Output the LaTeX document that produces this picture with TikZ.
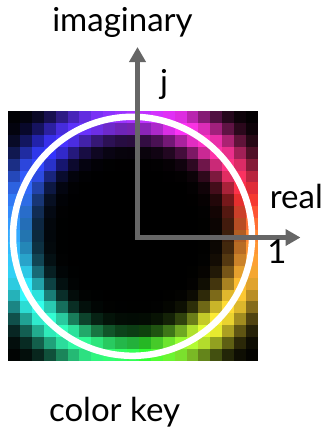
\documentclass[tikz,border=0pt]{standalone}
\usepackage{fontspec}
\setmainfont{Lato}
\usetikzlibrary{arrows.meta}

\definecolor{axisgray}{HTML}{666666}
\tikzset{
  axis/.style={draw=axisgray, line width=5pt, line cap=rect, -{Triangle[length=15pt,width=16pt]}},
  lbl/.style={anchor=base, inner sep=0pt, font=\fontsize{33}{40}\selectfont},
}

\begin{document}
\begin{tikzpicture}[x=1pt,y=-1pt]
  \useasboundingbox (0,0) rectangle (329,432);
  % pixel key: hue from the angle, brightness from the distance to the unit circle
  \def\cs{11.9}
  \def\rad{119.5}
  \fill[black] (8,111) rectangle (257.9,360.9);
  \foreach \i in {0,...,20} {
    \foreach \j in {0,...,20} {
      \pgfmathsetmacro\u{(\i-10)*\cs/\rad}
      \pgfmathsetmacro\v{(10-\j)*\cs/\rad}
      \pgfmathsetmacro\rr{sqrt(\u*\u+\v*\v)}
      \pgfmathsetmacro\ang{mod(atan2(\v,\u+0.0001)+360,360)}
      \pgfmathsetmacro\hh{\ang<45 ? 25-\ang*1.3333 : (\ang<90 ? -35-(\ang-45)*1.1111 :
        (\ang<180 ? -85-(\ang-90)*0.7778 : (\ang<270 ? -155-(\ang-180)*0.8333 :
        (\ang<315 ? -230-(\ang-270)*1.6667 : -305-(\ang-315)*0.6667))))}
      \pgfmathsetmacro\hue{mod(\hh+720,360)}
      \pgfmathsetmacro\sig{\rr<1 ? 0.17 : 0.2}
      \pgfmathsetmacro\bri{exp(-min(9,((\rr-1)/\sig)^2))}
      \definecolor{pix}{Hsb}{\hue,0.8,\bri}
      \fill[pix] ({8+\i*\cs},{111+\j*\cs}) rectangle ({8.3+(\i+1)*\cs},{111.3+(\j+1)*\cs});
    }
  }
  \draw[white, line width=6.5pt] (132.5,236.3) circle[radius=119.5];

  \coordinate (o) at (137.5,237.5);
  \coordinate (imtip) at (137.5,47);
  \coordinate (retip) at (300.5,237.5);
  \draw[axis] (o) -- (imtip);
  \draw[axis] (o) -- (retip);

  \node[lbl] (imag) at (122.5,31.7) {imaginary};
  \node[lbl] (junit) at (164,93) {j};
  \node[lbl] (real) at (296.3,208.3) {real};
  \node[lbl] (one) at (277,263.3) {1};
  \node[lbl] (key) at (114.5,421.7) {color key};
\end{tikzpicture}
\end{document}
